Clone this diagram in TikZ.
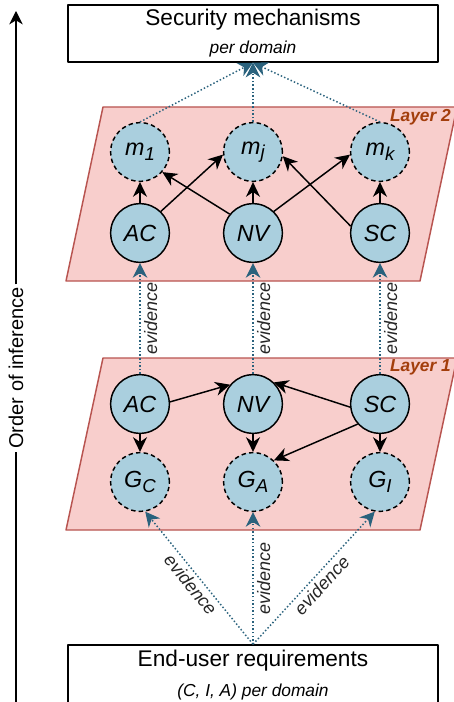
\documentclass[tikz,border=0pt]{standalone}
\usepackage{fontspec}
\setmainfont{Liberation Sans}
\usepackage{tikz}
\usetikzlibrary{arrows.meta}
\definecolor{LayerFill}{HTML}{F8CECC}
\definecolor{LayerLine}{HTML}{B85450}
\definecolor{LayerText}{HTML}{A33E0C}
\definecolor{VarBlue}{HTML}{AACFDE}
\definecolor{EvTeal}{HTML}{2A627D}
\definecolor{EvInk}{HTML}{262626}
\newcommand{\lowsub}[1]{\raisebox{-3.5pt}{\fontsize{14}{15}\selectfont #1}}

\begin{document}
\begin{tikzpicture}[x=0.75pt,y=-0.75pt,line join=round,
  var/.style={circle,draw,line width=1.1pt,fill=VarBlue,minimum size=44pt,
    inner sep=0pt,font=\fontsize{17.5}{20}\selectfont\itshape},
  goal/.style={var,dash pattern=on 3.3pt off 2.4pt},
  dep/.style={-{Stealth[length=11pt,width=10.5pt,inset=3.5pt]},line width=1.1pt},
  evid/.style={EvTeal,line width=1.1pt,dash pattern=on 1.1pt off 1.6pt,
    -{Stealth[length=11pt,width=11pt,inset=3.5pt]}},
  evlabel/.style={font=\fontsize{13.5}{15}\selectfont\itshape,text=EvInk,inner sep=2.5pt},
  layer/.style={fill=LayerFill,draw=LayerLine,line width=1.1pt},
  layerlabel/.style={anchor=east,inner sep=0pt,text=LayerText,
    font=\fontsize{13}{15}\selectfont\bfseries\itshape},
  endbox/.style={draw,line width=1.1pt,minimum width=277.5pt,align=center,
    font=\fontsize{17}{20}\selectfont}]
  \path[use as bounding box] (0,0) rectangle (453,702);

  % Inference axis on the left.
  \node[rotate=90,inner sep=2pt,font=\fontsize{15}{18}\selectfont] (order) at (16,368)
    {Order of inference};
  \coordinate (axisbot) at (16,702);
  \coordinate (axistop) at (16,11);
  \draw[line width=1.1pt] (axisbot) -- (order.west);
  \draw[line width=1.1pt,-{Stealth[length=10pt,width=10pt,inset=3pt]}]
    (order.east) -- (axistop);

  % The two layers.
  \draw[layer] (103,107) -- (457,107) -- (420,281) -- (66,281) -- cycle;
  \draw[layer] (103,358) -- (457,358) -- (420,530) -- (66,530) -- cycle;
  \node[layerlabel] (lay2) at (451,117) {Layer 2};
  \node[layerlabel] (lay1) at (451,367) {Layer 1};

  % End boxes.
  \node[endbox,minimum height=42.75pt] (mech) at (253,33.5)
    {Security mechanisms\\[1pt]{\fontsize{13}{15}\selectfont\itshape per domain}};
  \node[endbox,minimum height=45pt] (req) at (253,675)
    {End-user requirements\\[2pt]{\fontsize{13}{15}\selectfont\itshape (C, I, A) per domain}};

  % Layer 2 variables.
  \node[goal] (m1) at (140,152) {m\lowsub{1}};
  \node[goal] (mj) at (253,152) {m\lowsub{j}};
  \node[goal] (mk) at (380,152) {m\lowsub{k}};
  \node[var] (ac2) at (140,233) {AC};
  \node[var] (nv2) at (253,233) {NV};
  \node[var] (sc2) at (380,233) {SC};

  % Layer 1 variables.
  \node[var] (ac1) at (140,404) {AC};
  \node[var] (nv1) at (253,404) {NV};
  \node[var] (sc1) at (380,404) {SC};
  \node[goal] (gC) at (140,482) {G\lowsub{C}};
  \node[goal] (gA) at (253,482) {G\lowsub{A}};
  \node[goal] (gI) at (380,482) {G\lowsub{I}};

  \draw[dep] (ac2) -- (m1);
  \draw[dep] (ac2.46) -- (mj.185);
  \draw[dep] (nv2.141) -- (m1.-42);
  \draw[dep] (nv2) -- (mj);
  \draw[dep] (nv2.46) -- (mk.185);
  \draw[dep] (sc2.167) -- (mj.-8);
  \draw[dep] (sc2) -- (mk);

  \draw[dep] (ac1.4) -- (nv1.140);
  \draw[dep] (sc1.186) -- (nv1.46);
  \draw[dep] (ac1) -- (gC);
  \draw[dep] (nv1) -- (gA);
  \draw[dep] (sc1) -- (gI);
  \draw[dep] (sc1.222) -- (gA.46);

  % Evidence flowing upwards.
  \draw[evid] (req.north) -- node[evlabel,sloped,below] {evidence} (gC.-80);
  \draw[evid] (req.north) -- node[evlabel,rotate=90,anchor=north] {evidence} (gA.south);
  \draw[evid] (req.north) -- node[evlabel,sloped,below] {evidence} (gI.-100);

  \draw[evid] (ac1) -- node[evlabel,rotate=90,anchor=north] {evidence} (ac2);
  \draw[evid] (nv1) -- node[evlabel,rotate=90,anchor=north] {evidence} (nv2);
  \draw[evid] (sc1) -- node[evlabel,rotate=90,anchor=north] {evidence} (sc2);

  \draw[evid] (m1.north) -- (mech.south);
  \draw[evid] (mj.north) -- (mech.south);
  \draw[evid] (mk.north) -- (mech.south);
\end{tikzpicture}
\end{document}
